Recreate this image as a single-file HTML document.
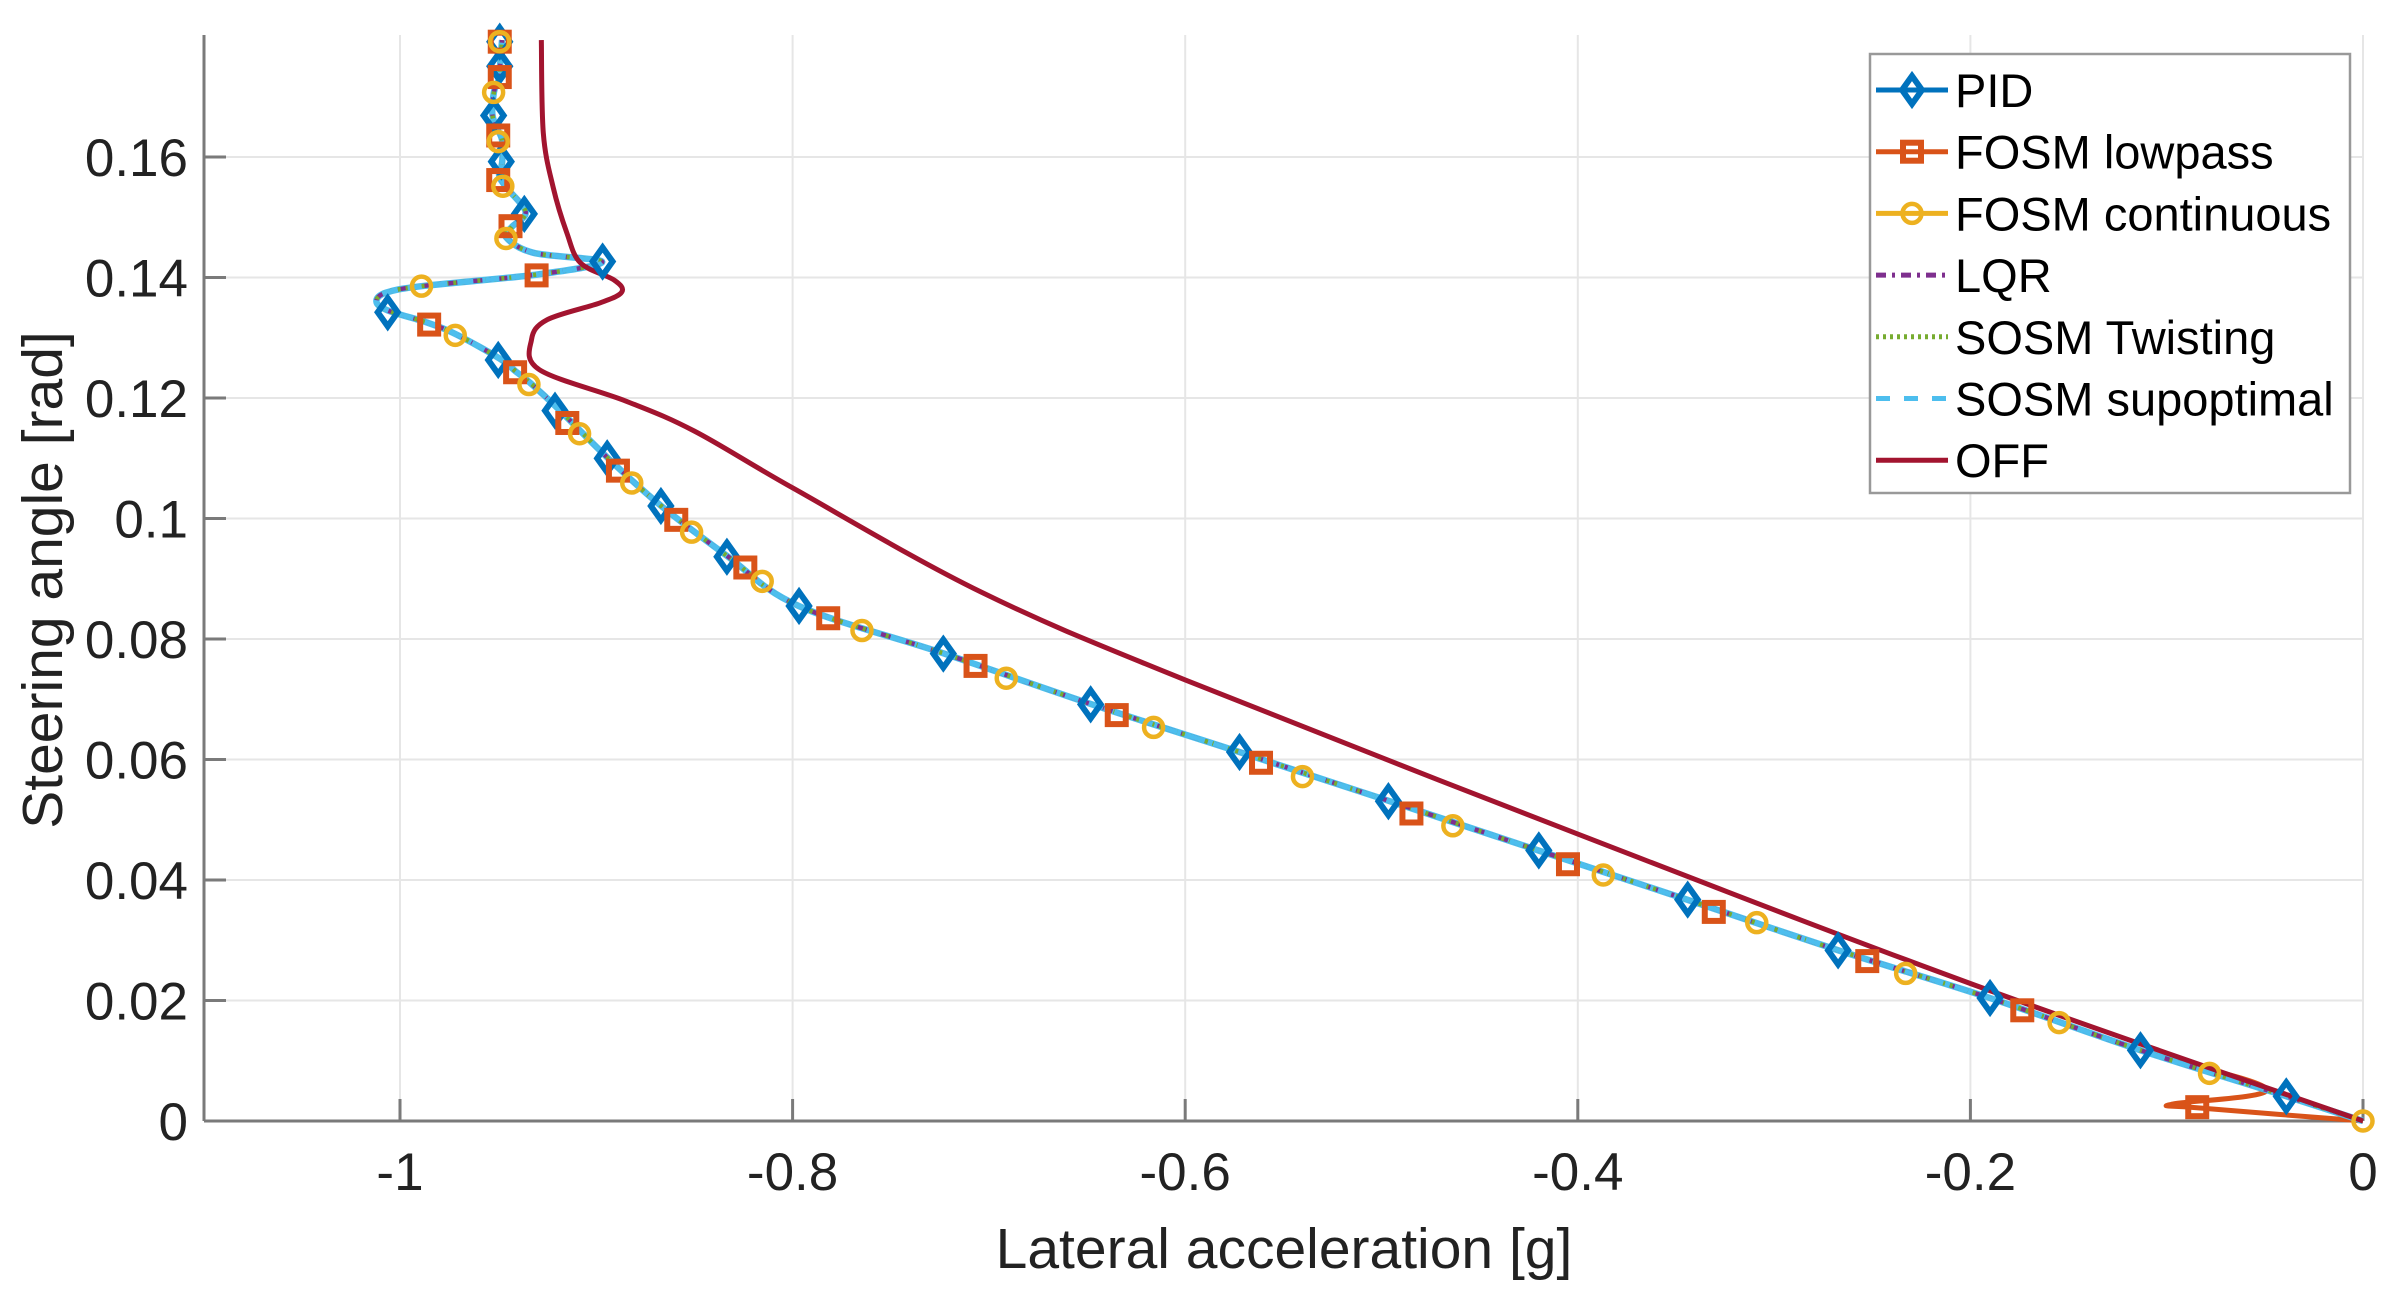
<!DOCTYPE html>
<html><head><meta charset="utf-8">
<style>
html,body{margin:0;padding:0;background:#fff;}
svg{display:block;}
text{font-family:"Liberation Sans",Arial,sans-serif;fill:#222;}
</style></head>
<body>
<svg id="s" width="2406" height="1311" viewBox="0 0 2406 1311" xmlns="http://www.w3.org/2000/svg">
<rect x="0" y="0" width="2406" height="1311" fill="#fff"/>
<g id="grid" stroke="#e6e6e6" stroke-width="2"></g>
<g id="axes" stroke="#7a7a7a" stroke-width="3" fill="none"></g>
<g id="ticks"></g>
<g id="data" fill="none" stroke-linejoin="round" stroke-linecap="butt"></g>
<g id="marks"></g>
<text x="1284" y="1268" font-size="57" text-anchor="middle">Lateral acceleration [g]</text>
<text transform="translate(62,580) rotate(-90)" font-size="57" text-anchor="middle">Steering angle [rad]</text>
<g id="legend"></g>
</svg>
<script>
const NS="http://www.w3.org/2000/svg";
function el(p,t,a){const e=document.createElementNS(NS,t);for(const k in a)e.setAttribute(k,a[k]);p.appendChild(e);return e;}
const X=x=>2363+x*1963, Y=y=>1121-y*6025;
const L=204,R=2363,T=35,B=1121;
const g=document.getElementById('grid'),ax=document.getElementById('axes'),tk=document.getElementById('ticks');
for(let i=0;i<=5;i++){const x=X(-1+0.2*i);el(g,'line',{x1:x,y1:T,x2:x,y2:B});}
for(let i=0;i<=8;i++){const y=Y(0.02*i);el(g,'line',{x1:L,y1:y,x2:R,y2:y});}
el(ax,'line',{x1:L,y1:T,x2:L,y2:B});el(ax,'line',{x1:L,y1:B,x2:R,y2:B});
const xl=['-1','-0.8','-0.6','-0.4','-0.2','0'];
for(let i=0;i<=5;i++){const x=X(-1+0.2*i);el(ax,'line',{x1:x,y1:B,x2:x,y2:B-22});
 const t=el(tk,'text',{x:x,y:1190,'font-size':53,'text-anchor':'middle'});t.textContent=xl[i];}
const yl=['0','0.02','0.04','0.06','0.08','0.1','0.12','0.14','0.16'];
for(let i=0;i<=8;i++){const y=Y(0.02*i);el(ax,'line',{x1:L,y1:y,x2:L+22,y2:y});
 const t=el(tk,'text',{x:188,y:y+19,'font-size':53,'text-anchor':'end'});t.textContent=yl[i];}
function cr(pts){pts=pts.map(p=>[X(p[0]),Y(p[1])]);let d='M'+pts[0][0]+','+pts[0][1];
 for(let i=0;i<pts.length-1;i++){const p0=pts[i-1]||pts[i],p1=pts[i],p2=pts[i+1],p3=pts[i+2]||p2;
 const c1=[p1[0]+(p2[0]-p0[0])/6,p1[1]+(p2[1]-p0[1])/6],c2=[p2[0]-(p3[0]-p1[0])/6,p2[1]-(p3[1]-p1[1])/6];
 d+='C'+c1.join(',')+' '+c2.join(',')+' '+p2.join(',');}return d;}
const main=[[0,0],[-0.039,0.0041],[-0.113,0.0117],[-0.19,0.0204],[-0.267,0.0283],[-0.344,0.0367],[-0.42,0.0449],[-0.496,0.0531],[-0.572,0.0612],[-0.648,0.0692],[-0.723,0.0776],[-0.797,0.0855],[-0.833,0.0937],[-0.867,0.1021],[-0.894,0.11],[-0.92,0.1184],[-0.934,0.1226],[-0.941,0.1244],[-0.949,0.1265],[-0.971,0.1305],[-0.986,0.1325],[-1.006,0.1345],[-1.012,0.136],[-1.007,0.1375],[-0.988,0.1386],[-0.93,0.1405],[-0.897,0.1426],[-0.932,0.1441],[-0.946,0.1467],[-0.943,0.1484],[-0.936,0.1509],[-0.946,0.155],[-0.9495,0.157],[-0.948,0.159],[-0.948,0.1628],[-0.951,0.165],[-0.953,0.1673],[-0.952,0.171],[-0.9495,0.173],[-0.949,0.1753],[-0.948,0.1794]];
const lowp=[[0,0],[-0.0846,0.0022],[-0.0973,0.0028],[-0.049,0.0053]].concat(main.slice(2));
const off=[[0,0],[-0.199,0.0227],[-0.399,0.0475],[-0.6,0.0732],[-0.704,0.0878],[-0.799,0.1049],[-0.85,0.1145],[-0.885,0.1195],[-0.929,0.1247],[-0.933,0.1297],[-0.925,0.133],[-0.898,0.1358],[-0.887,0.1376],[-0.891,0.1396],[-0.908,0.1424],[-0.915,0.1474],[-0.922,0.155],[-0.927,0.164],[-0.928,0.1794]];
const D=document.getElementById('data');
const mp=cr(main);
el(D,'path',{d:mp,stroke:'#0072BD','stroke-width':5});
el(D,'path',{d:cr(lowp),stroke:'#D95319','stroke-width':5});
el(D,'path',{d:mp,stroke:'#EDB120','stroke-width':5});
el(D,'path',{d:mp,stroke:'#4DBEEE','stroke-width':6.5});
el(D,'path',{d:mp,stroke:'#7E2F8E','stroke-width':4.5,'stroke-dasharray':'10 6 3 6'});
el(D,'path',{d:mp,stroke:'#77AC30','stroke-width':4.5,'stroke-dasharray':'3 5','stroke-dashoffset':'8'});
el(D,'path',{d:mp,stroke:'#4DBEEE','stroke-width':4.5,'stroke-dasharray':'14 12'});
el(D,'path',{d:cr(off),stroke:'#A2142F','stroke-width':5});
const M=document.getElementById('marks');
const P=(px,py)=>[2363+(px-1540)*1963/1279,1121-(729-py)*964/627];
function dia(p,x,y,c){el(p,'path',{d:`M${x},${y-14}L${x+10},${y}L${x},${y+14}L${x-10},${y}Z`,fill:'none',stroke:c,'stroke-width':6});}
function sq(p,x,y,c){el(p,'rect',{x:x-9,y:y-9,width:18,height:18,fill:'none',stroke:c,'stroke-width':6});}
function ci(p,x,y,c){el(p,'circle',{cx:x,cy:y,r:9.5,fill:'none',stroke:c,'stroke-width':4.5});}
const pid=[[1490,713],[1395,683],[1297,649],[1198,618],[1100,585],[1003,553],[905,521],[808,489],[711,458],[615,425],[521,394],[474,362],[431,329],[396,298],[362,267],[325,234],[253,203],[393,170],[342,139],[327,105],[322,75],[326,43],[326,27]];
const sqs=[[1432,720],[1318,657],[1217,625],[1117,593],[1022,562],[920,529],[822,496],[728,465],[636,433],[540,402],[486,369],[441,338],[403,306],[370,275],[336,242],[280,211],[350,179],[333,147],[325,117],[325,88],[326,50],[326,27]];
const cis=[[1540,729],[1440,698],[1342,665],[1242,633],[1145,600],[1045,569],[947,537],[849,505],[752,473],[656,441],[562,410],[497,378],[451,346],[412,314],[378,282],[345,250],[297,218],[275,186],[330,155],[328,121],[325,92],[322,60],[326,27]];
pid.forEach(q=>{const p=P(q[0],q[1]);dia(M,p[0],p[1],'#0072BD');});
sqs.forEach(q=>{const p=P(q[0],q[1]);sq(M,p[0],p[1],'#D95319');});
cis.forEach(q=>{const p=P(q[0],q[1]);ci(M,p[0],p[1],'#EDB120');});
const Lg=document.getElementById('legend');
el(Lg,'rect',{x:1870,y:54,width:480,height:439,fill:'#fff',stroke:'#999','stroke-width':2.5});
const items=[['PID','#0072BD','','d'],['FOSM lowpass','#D95319','','s'],['FOSM continuous','#EDB120','','c'],['LQR','#7E2F8E','10 6 3 6',''],['SOSM Twisting','#77AC30','3 4',''],['SOSM supoptimal','#4DBEEE','14 14',''],['OFF','#A2142F','','']];
items.forEach((it,i)=>{const y=90+i*61.7;
 const a={x1:1876,y1:y,x2:1948,y2:y,stroke:it[1],'stroke-width':5};if(it[2])a['stroke-dasharray']=it[2];el(Lg,'line',a);
 if(it[3]=='d')dia(Lg,1912,y,it[1]);if(it[3]=='s')sq(Lg,1912,y,it[1]);if(it[3]=='c')ci(Lg,1912,y,it[1]);
 const t=el(Lg,'text',{x:1955,y:y+17,'font-size':47});t.style.fill='#000';t.textContent=it[0];});
</script>
</body></html>
